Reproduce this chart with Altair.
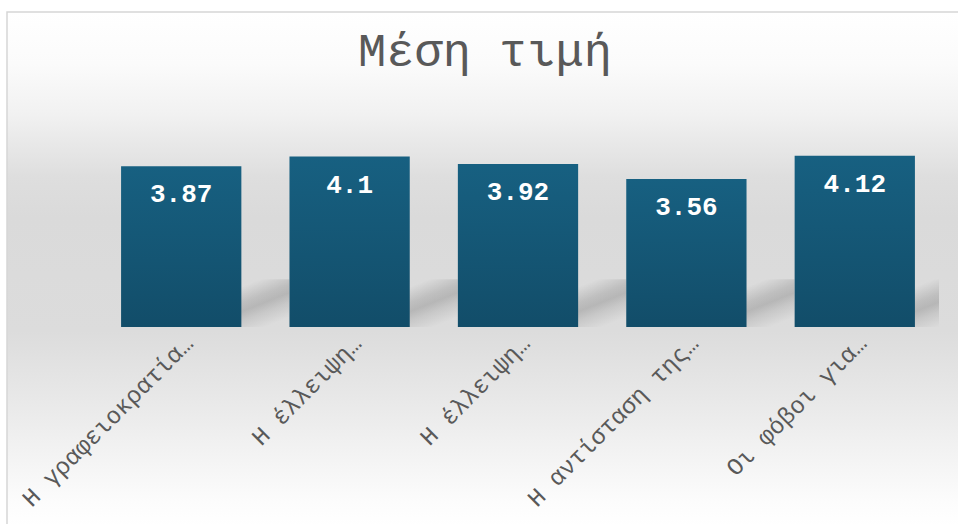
import altair as alt
import pandas as pd

# ---- data ----
categories = ["Η γραφειοκρατία…", "Η έλλειψη…", "Η έλλειψη…", "Η αντίσταση της…", "Οι φόβοι για…"]
values = [3.87, 4.1, 3.92, 3.56, 4.12]
title_text = "Μέση τιμή"

df = pd.DataFrame({
    "key": [f"{i}|{c}" for i, c in enumerate(categories)],
    "label": categories,
    "value": values,
})
one = pd.DataFrame({"a": [0]})

W, H = 842, 187
MONO = "Liberation Mono"
GRAY = "#595959"

x_enc = alt.X(
    "key:N", sort=None,
    scale=alt.Scale(paddingInner=0.2857, paddingOuter=0.143),
    axis=alt.Axis(title=None, labelAngle=-45, labelAlign="right", labelBaseline="top",
                  labelExpr="slice(datum.label, 2)", labelFont=MONO, labelFontSize=24,
                  labelColor=GRAY, domain=False, ticks=False, labelPadding=4,
                  labelLimit=600, grid=False, labelOverlap=False, zindex=2),
)
y_scale = alt.Scale(domain=[0, 4.5])

bg = alt.Chart(one).mark_rect(
    fill=alt.LinearGradient(
        gradient="linear", x1=0, y1=0, x2=0, y2=1,
        stops=[
            alt.GradientStop(offset=0.0, color="#ffffff"),
            alt.GradientStop(offset=0.10, color="#fbfbfb"),
            alt.GradientStop(offset=0.20, color="#f1f1f1"),
            alt.GradientStop(offset=0.32, color="#dedede"),
            alt.GradientStop(offset=0.40, color="#dadada"),
            alt.GradientStop(offset=0.62, color="#dcdcdc"),
            alt.GradientStop(offset=0.76, color="#e9e9e9"),
            alt.GradientStop(offset=0.86, color="#f3f3f3"),
            alt.GradientStop(offset=0.95, color="#fcfcfc"),
            alt.GradientStop(offset=1.0, color="#ffffff"),
        ]),
    stroke="#d6d6d6", strokeWidth=1.5,
).encode(x=alt.value(-90), x2=alt.value(W + 40), y=alt.value(-128), y2=alt.value(H + 200))

shadow = alt.Chart(df).mark_bar(
    xOffset=48, clip=True,
    fill=alt.LinearGradient(
        gradient="linear", x1=0, y1=0, x2=1, y2=1,
        stops=[
            alt.GradientStop(offset=0.0, color="rgba(0,0,0,0)"),
            alt.GradientStop(offset=0.38, color="rgba(0,0,0,0)"),
            alt.GradientStop(offset=0.55, color="rgba(0,0,0,0.13)"),
            alt.GradientStop(offset=0.64, color="rgba(0,0,0,0.17)"),
            alt.GradientStop(offset=0.74, color="rgba(0,0,0,0.09)"),
            alt.GradientStop(offset=0.90, color="rgba(0,0,0,0)"),
            alt.GradientStop(offset=1.0, color="rgba(0,0,0,0)"),
        ]),
).encode(x=x_enc, y=alt.Y(datum=0, scale=y_scale, axis=None), y2=alt.Y2(datum=1.15))

bars = alt.Chart(df).mark_bar(
    fill=alt.LinearGradient(
        gradient="linear", x1=0, y1=0, x2=0, y2=1,
        stops=[alt.GradientStop(offset=0, color="#176081"),
               alt.GradientStop(offset=1, color="#124d69")]),
).encode(x=x_enc, y=alt.Y("value:Q", scale=y_scale, axis=None))

texts = alt.Chart(df).mark_text(
    font=MONO, fontSize=26, fontWeight="bold", color="white",
    baseline="alphabetic", dy=36,
).encode(x=x_enc, y=alt.Y("value:Q", scale=y_scale, axis=None),
         text=alt.Text("value:Q", format=".3~g"))

chart = alt.layer(bg, shadow, bars, texts).properties(
    width=W, height=H,
    autosize=alt.AutoSizeParams(type="none"),
    padding={"left": 97, "top": 140, "right": 19, "bottom": 197},
    background="white",
    title=alt.TitleParams(text=title_text, font=MONO, fontSize=47, fontWeight="normal",
                          color=GRAY, anchor="middle", dx=-33, offset=-102,
                          baseline="alphabetic", zindex=2),
).configure_view(stroke=None)

chart.save("out.html", embed_options={"renderer": "svg", "actions": False})
